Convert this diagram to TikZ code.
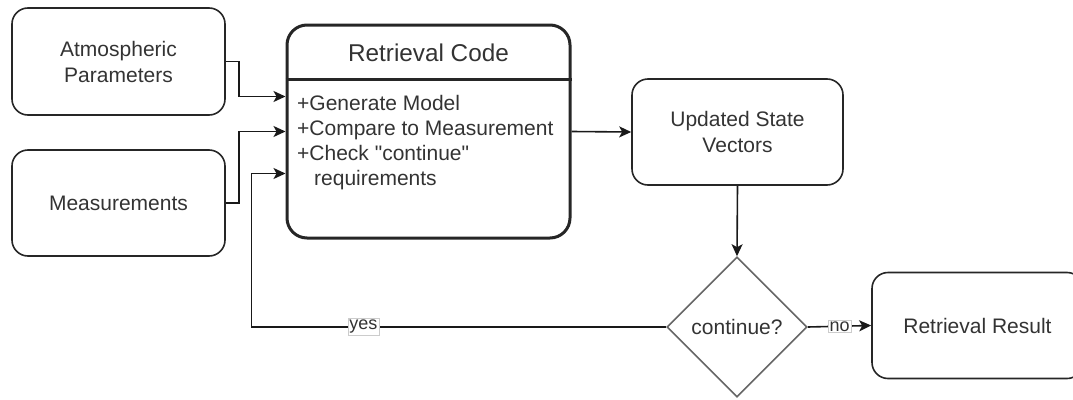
\documentclass[tikz,border=0pt]{standalone}
\usepackage{fontspec}
\setmainfont{Liberation Sans}[Ligatures=TeXOff]
\usetikzlibrary{calc}
\usetikzlibrary{positioning}
\usetikzlibrary{shapes.geometric, arrows.meta}
\definecolor{txt}{gray}{0.2}
\tikzstyle{box} = [draw=black!85, line width=1.6pt, rounded corners=16pt, minimum width=211pt, minimum height=106pt, align=center, text=txt, font=\fontsize{21}{26}\selectfont]
\tikzstyle{arrow} = [line width=1.6pt, draw=black!90, -{Stealth[length=12pt,width=11pt,inset=3pt]}]
\tikzstyle{lbl} = [fill=white, draw=black!20, line width=0.6pt, inner sep=1.5pt, text=txt, font=\fontsize{18}{20}\selectfont]

\begin{document}
\begin{tikzpicture}[x=1pt,y=-1pt]
	\useasboundingbox (0,0) rectangle (1073,399);
	\node[box, minimum width=213pt, minimum height=107pt] (atm) at (118.5,61.5) {Atmospheric\\Parameters};
	\node[box, minimum width=213pt] (meas) at (118.5,203) {Measurements};
	\node[box, line width=3pt, rounded corners=20pt, minimum width=283pt, minimum height=213pt] (code) at (428.5,131.5) {};
	\draw[line width=3pt, draw=black!85] (code.west |- 0,79) -- (code.east |- 0,79);
	\node[text=txt, font=\fontsize{24.3}{28}\selectfont] (title) at (428.5,53) {Retrieval Code};
	\node[anchor=north west, inner sep=0pt, align=left, text=txt, font=\fontsize{21}{25}\selectfont] (steps) at (297,95) {+Generate Model\\+Compare to Measurement\\+Check "continue"\\\hspace*{17pt}requirements};
	\node[box] (state) at (737.5,132) {Updated State\\Vectors};
	\node[draw=black!60, line width=1.6pt, diamond, aspect=1, minimum width=140pt, minimum height=140pt, inner sep=0pt, text=txt, font=\fontsize{21}{26}\selectfont] (dec) at (737,327) {continue?};
	\node[box] (res) at (977.5,325.5) {Retrieval Result};
	\coordinate (in1) at ($(code.west)+(0,-35)$);
	\coordinate (in3) at ($(code.west)+(0,42)$);
	\draw[arrow] (atm.east) -- ++(13,0) |- (in1);
	\draw[arrow] (meas.east) -- ++(13,0) |- (code.west);
	\draw[arrow] (code.east) -- (state.west);
	\draw[arrow] (state.south) -- (dec.north);
	\draw[arrow] (dec.east) -- node[lbl] {no} (res.west);
	\draw[arrow] (dec.west) -- node[lbl, pos=0.73] {yes} ($(dec.west -| in3)+(-34,0)$) |- (in3);
\end{tikzpicture}
\end{document}
